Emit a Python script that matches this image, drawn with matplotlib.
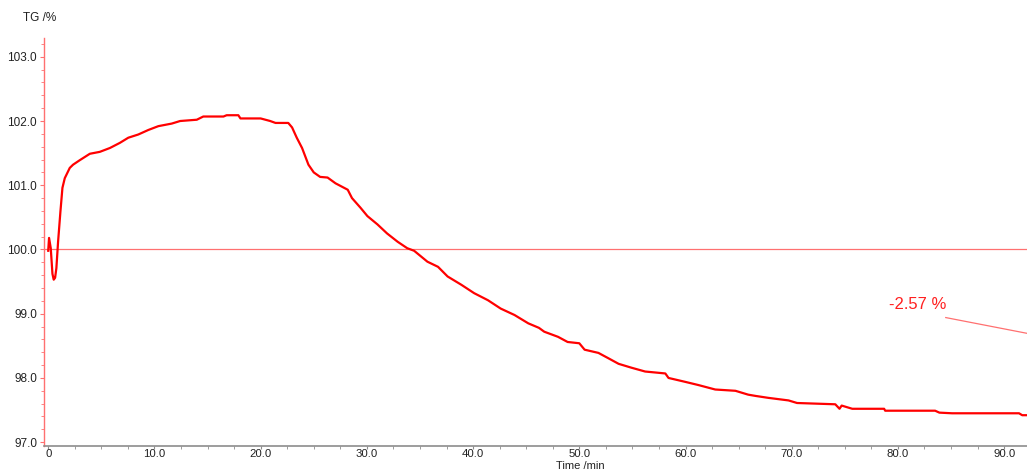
"""
TG curve: mass change (%) over time (min), with step loss annotation.
"""

import matplotlib.pyplot as plt
from matplotlib.ticker import MultipleLocator, FormatStrFormatter

plt.rcParams["font.family"] = ["Liberation Sans", "DejaVu Sans"]

# time (min) and TG (%)
time_min = [
    0.0, 0.08, 0.24, 0.4, 0.52, 0.65, 0.77, 0.93, 1.15, 1.34, 1.56, 2.03,
    2.34, 2.97, 3.92, 4.86, 5.81, 6.75, 7.54, 8.48, 9.42, 10.37, 11.63,
    12.42, 13.99, 14.6, 16.5, 16.8, 17.9, 18.1, 20.0, 20.9, 21.4, 22.6,
    22.96, 23.4, 23.9, 24.5, 25.0, 25.6, 26.3, 27.05, 28.2, 28.6, 29.4,
    30.05, 31.0, 31.9, 32.9, 33.8, 34.45, 35.7, 36.7, 37.6, 38.9, 40.1,
    41.4, 42.6, 43.9, 45.2, 46.2, 46.7, 48.0, 48.9, 50.0, 50.5, 51.8,
    52.7, 53.7, 54.9, 56.2, 58.1, 58.4, 59.95, 61.2, 62.8, 64.7, 65.9,
    66.6, 67.8, 69.7, 70.5, 74.1, 74.5, 74.7, 75.7, 78.7, 78.8, 83.5,
    83.9, 85.1, 91.4, 91.7, 92.3,
]
tg_pct = [
    99.98, 100.18, 100.02, 99.62, 99.53, 99.56, 99.71, 100.12, 100.59,
    100.96, 101.11, 101.27, 101.32, 101.39, 101.49, 101.52, 101.58,
    101.66, 101.74, 101.79, 101.86, 101.92, 101.96, 102.0, 102.02, 102.07,
    102.07, 102.09, 102.09, 102.04, 102.04, 102.0, 101.97, 101.97, 101.9,
    101.74, 101.58, 101.32, 101.2, 101.13, 101.12, 101.03, 100.93, 100.8,
    100.65, 100.52, 100.39, 100.25, 100.12, 100.02, 99.98, 99.81, 99.73,
    99.58, 99.45, 99.32, 99.21, 99.08, 98.98, 98.85, 98.78, 98.72, 98.64,
    98.56, 98.54, 98.44, 98.39, 98.31, 98.22, 98.16, 98.1, 98.07, 98.0,
    97.94, 97.89, 97.82, 97.8, 97.74, 97.72, 97.69, 97.65, 97.61, 97.59,
    97.52, 97.57, 97.52, 97.52, 97.49, 97.49, 97.46, 97.45, 97.45, 97.42,
    97.42,
]

step_label = "-2.57 %"
step_text_pos = (79.2, 99.07)
step_line_x = [84.5, 92.3]
step_line_y = [98.94, 98.69]

RED = "#ff0000"
LIGHT_RED = "#ff7070"
GRAY = "#8c8c8c"

fig = plt.figure(figsize=(10.27, 4.71), dpi=100)
ax = fig.add_axes([0.0428, 0.053, 0.9572, 0.866])

ax.axhline(100.0, color=LIGHT_RED, lw=0.9, zorder=1)
ax.plot(time_min, tg_pct, color=RED, lw=1.6, zorder=3)

ax.text(step_text_pos[0], step_text_pos[1], step_label, color="#ff2020",
        fontsize=12, ha="left", va="baseline")
ax.plot(step_line_x, step_line_y, color=LIGHT_RED, lw=0.9, clip_on=False)

ax.set_xlim(-0.4, 92.15)
ax.set_ylim(96.94, 103.29)

ax.xaxis.set_major_locator(MultipleLocator(10))
ax.xaxis.set_minor_locator(MultipleLocator(2.5))
ax.yaxis.set_major_locator(MultipleLocator(1))
ax.yaxis.set_minor_locator(MultipleLocator(0.2))
ax.yaxis.set_major_formatter(FormatStrFormatter("%.1f"))


def xfmt(v, pos):
    return "0" if abs(v) < 1e-9 else f"{v:.1f}"


ax.xaxis.set_major_formatter(xfmt)

for side in ("top", "right"):
    ax.spines[side].set_visible(False)
ax.spines["left"].set_color(LIGHT_RED)
ax.spines["left"].set_linewidth(1.0)
ax.spines["bottom"].set_color(GRAY)
ax.spines["bottom"].set_linewidth(1.2)

ax.tick_params(axis="y", which="major", direction="out", length=3,
               color=LIGHT_RED, labelsize=8.5, labelcolor="#222222", pad=2)
ax.tick_params(axis="y", which="minor", direction="out", length=2,
               color=LIGHT_RED)
ax.tick_params(axis="x", which="major", direction="out", length=2.5,
               color=GRAY, labelsize=8.2, labelcolor="#222222", pad=-0.5)
ax.tick_params(axis="x", which="minor", direction="out", length=2,
               color=GRAY)

fig.text(40 / 1027, 1 - 18 / 471, "TG /%", fontsize=8.5, color="#222222",
         ha="center", va="center")
fig.text(580 / 1027, 0.0, "Time /min", fontsize=8.0,
         color="#222222", ha="center", va="bottom")

fig.savefig("out.png", dpi=100)
